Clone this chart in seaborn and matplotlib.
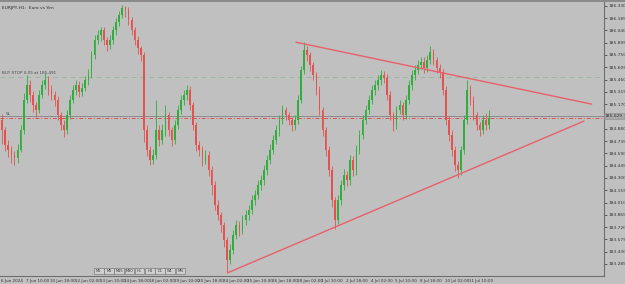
import matplotlib
matplotlib.use("Agg")
import matplotlib.pyplot as plt
import seaborn as sns
import pandas as pd
from matplotlib.patches import Rectangle

# ---------------- data (EURJPY, shown as 4-hour candles) ----------------
chart_title = "EURJPY,H1:  Euro vs Yen"
first_open = 184.98
closes = [184.86, 184.69, 184.63, 184.57, 184.53, 184.63, 184.86, 185.22, 185.39, 185.28,
          185.16, 185.10, 185.28, 185.39, 185.45, 185.34, 185.28, 185.22, 185.04, 184.92,
          184.86, 185.04, 185.22, 185.34, 185.39, 185.31, 185.36, 185.45, 185.51, 185.75,
          185.93, 185.98, 186.04, 185.93, 185.87, 185.93, 186.04, 186.14, 186.22, 186.30,
          186.28, 186.16, 186.04, 185.93, 185.83, 185.75, 184.86, 184.63, 184.51, 184.57,
          184.86, 184.75, 184.86, 185.04, 184.86, 184.75, 184.92, 185.10, 185.22, 185.28,
          185.34, 185.16, 184.92, 184.69, 184.63, 184.51, 184.57, 184.39, 184.22, 183.98,
          183.86, 183.74, 183.57, 183.33, 183.45, 183.63, 183.74, 183.69, 183.80, 183.86,
          183.92, 184.04, 184.10, 184.22, 184.28, 184.39, 184.51, 184.63, 184.75, 184.86,
          184.98, 185.10, 185.04, 184.98, 184.92, 184.98, 185.22, 185.57, 185.81, 185.75,
          185.63, 185.51, 185.34, 185.10, 184.86, 184.63, 184.39, 184.04, 183.80, 184.04,
          184.22, 184.33, 184.28, 184.51, 184.39, 184.63, 184.81, 184.98, 185.10, 185.22,
          185.34, 185.39, 185.45, 185.51, 185.48, 185.28, 185.04, 184.92, 185.10, 185.16,
          185.04, 185.22, 185.39, 185.51, 185.57, 185.63, 185.67, 185.60, 185.69, 185.78,
          185.69, 185.60, 185.55, 185.34, 184.98, 184.81, 184.63, 184.45, 184.39, 184.63,
          184.98, 185.34, 185.22, 185.04, 184.92, 184.86, 184.98, 184.92, 185.01]
highs = [185.05, 184.90, 184.75, 184.68, 184.62, 184.70, 184.92, 185.30, 185.51, 185.45,
         185.32, 185.20, 185.34, 185.45, 185.54, 185.50, 185.40, 185.33, 185.26, 185.08,
         184.98, 185.10, 185.28, 185.40, 185.46, 185.44, 185.42, 185.50, 185.58, 185.80,
         185.98, 186.04, 186.08, 186.08, 185.96, 185.99, 186.09, 186.19, 186.27, 186.34,
         186.33, 186.31, 186.20, 186.08, 185.97, 185.86, 185.78, 184.92, 184.68, 184.64,
         185.22, 184.92, 184.93, 185.16, 185.08, 184.90, 184.98, 185.16, 185.28, 185.34,
         185.40, 185.38, 185.20, 184.96, 184.74, 184.68, 184.63, 184.62, 184.44, 184.26,
         184.04, 183.90, 183.78, 183.60, 183.52, 183.68, 183.80, 183.79, 183.86, 183.92,
         183.98, 184.10, 184.16, 184.28, 184.34, 184.45, 184.57, 184.70, 184.81, 184.92,
         185.04, 185.16, 185.14, 185.08, 185.02, 185.04, 185.28, 185.62, 185.90, 185.86,
         185.78, 185.67, 185.55, 185.38, 185.14, 184.90, 184.68, 184.44, 184.08, 184.10,
         184.28, 184.40, 184.38, 184.57, 184.56, 184.69, 184.87, 185.04, 185.16, 185.28,
         185.40, 185.45, 185.51, 185.57, 185.56, 185.52, 185.32, 185.08, 185.15, 185.22,
         185.20, 185.28, 185.45, 185.57, 185.63, 185.69, 185.73, 185.72, 185.75, 185.85,
         185.82, 185.73, 185.64, 185.58, 185.38, 185.03, 184.86, 184.68, 184.50, 184.68,
         185.04, 185.45, 185.40, 185.26, 185.08, 184.96, 185.04, 185.07, 185.10]
lows = [184.70, 184.62, 184.55, 184.48, 184.45, 184.48, 184.60, 184.82, 185.18, 185.20,
        185.08, 185.02, 185.06, 185.24, 185.35, 185.28, 185.22, 185.15, 184.98, 184.86,
        184.78, 184.82, 185.00, 185.18, 185.28, 185.25, 185.26, 185.32, 185.40, 185.48,
        185.70, 185.88, 185.92, 185.87, 185.80, 185.82, 185.88, 185.99, 186.09, 186.18,
        186.20, 186.10, 185.98, 185.87, 185.76, 185.68, 184.72, 184.56, 184.45, 184.46,
        184.52, 184.68, 184.70, 184.80, 184.80, 184.68, 184.70, 184.88, 185.05, 185.16,
        185.22, 185.10, 184.86, 184.62, 184.56, 184.44, 184.46, 184.32, 184.10, 183.92,
        183.80, 183.66, 183.48, 183.19, 183.28, 183.40, 183.58, 183.62, 183.64, 183.75,
        183.80, 183.88, 183.98, 184.05, 184.16, 184.22, 184.34, 184.46, 184.58, 184.70,
        184.80, 184.93, 184.98, 184.92, 184.85, 184.86, 184.94, 185.18, 185.52, 185.68,
        185.56, 185.45, 185.28, 185.04, 184.80, 184.56, 184.32, 183.96, 183.70, 183.76,
        183.98, 184.16, 184.20, 184.22, 184.32, 184.34, 184.58, 184.76, 184.93, 185.05,
        185.17, 185.28, 185.34, 185.40, 185.42, 185.22, 184.98, 184.85, 184.88, 185.05,
        184.98, 185.00, 185.17, 185.34, 185.46, 185.52, 185.58, 185.54, 185.55, 185.64,
        185.63, 185.54, 185.48, 185.28, 184.92, 184.74, 184.56, 184.38, 184.30, 184.34,
        184.58, 184.93, 185.16, 184.98, 184.86, 184.80, 184.82, 184.86, 184.88]
bar_hours = 4

price_ticks = [183.285, 183.430, 183.575, 183.720, 183.865, 184.010, 184.155, 184.300,
               184.445, 184.590, 184.735, 184.880, 185.025, 185.170, 185.315, 185.460,
               185.605, 185.750, 185.895, 186.040, 186.185, 186.330]
time_labels = ["6 Jun 2024", "7 Jun 10:00", "10 Jun 18:00", "12 Jun 02:00", "13 Jun 10:00",
               "14 Jun 18:00", "18 Jun 02:00", "19 Jun 10:00", "20 Jun 18:00", "24 Jun 02:00",
               "25 Jun 10:00", "26 Jun 18:00", "28 Jun 02:00", "1 Jul 10:00", "2 Jul 18:00",
               "4 Jul 02:00", "5 Jul 10:00", "8 Jul 18:00", "10 Jul 02:00", "11 Jul 10:00"]
hours_per_label = 32

buy_stop_price = 185.491
buy_stop_text = "BUY STOP 0.05 at 185.491"
sl_price = 185.01
bid_price = 185.03
bid_text = "185.029"

upper_trend_hours = [383, 767]
upper_trend_prices = [185.90, 185.17]
lower_trend_hours = [294, 757]
lower_trend_prices = [183.18, 184.97]

toolbar_buttons = ["M1", "M5", "M15", "M30", "H1", "H4", "D1", "W1", "MN"]

# ---------------- build frame ----------------
opens = [first_open] + closes[:-1]
df = pd.DataFrame({"open": opens, "high": highs, "low": lows, "close": closes})
df["hour"] = [bar_hours * k + 1.5 for k in range(len(df))]
df["up"] = df["close"] >= df["open"]

BG = "#c0c0c0"
GREEN = "#2fae3c"
RED = "#e2534f"
TRI = "#e8606a"
TXT = "#333333"
NARROW = ["Liberation Sans Narrow", "DejaVu Sans"]

sns.set_style("white", {"axes.facecolor": BG, "figure.facecolor": BG})
plt.rcParams["font.family"] = NARROW

fig = plt.figure(figsize=(6.25, 2.84), dpi=100)
fig.patch.set_facecolor(BG)
ax = fig.add_axes([0.0, 8 / 284, 604 / 625, 274 / 284])
ax.set_facecolor(BG)

# horizontal order lines
ax.axhline(buy_stop_price, color="#9db69d", lw=0.7, ls=(0, (5, 4)), zorder=1)
ax.axhline(bid_price, color="#8c8c8c", lw=0.7, zorder=1)
ax.axhline(sl_price, color="#d9534f", lw=0.7, ls=(0, (4, 2, 1, 2)), zorder=1)

# candles
for _, r in df.iterrows():
    col = GREEN if r["up"] else RED
    ax.vlines(r["hour"], r["low"], r["high"], color=col, lw=0.6, zorder=2)
    lo = min(r["open"], r["close"])
    h = max(abs(r["close"] - r["open"]), 0.01)
    ax.bar(r["hour"], h, bottom=lo, width=2.2, color=col, edgecolor=col, lw=0, zorder=3)

# trend lines (triangle)
tri = pd.DataFrame({
    "hour": upper_trend_hours + lower_trend_hours,
    "price": upper_trend_prices + lower_trend_prices,
    "line": ["upper", "upper", "lower", "lower"],
})
sns.lineplot(data=tri, x="hour", y="price", units="line", estimator=None,
             color=TRI, lw=1.0, ax=ax, zorder=4)

ax.set_xlim(-1.3, 783)
ax.set_ylim(183.1435, 186.374)
ax.set_xlabel("")
ax.set_ylabel("")

# axes styling
for s in ["top", "left"]:
    ax.spines[s].set_visible(False)
for s in ["right", "bottom"]:
    ax.spines[s].set_color("#6e6e6e")
    ax.spines[s].set_linewidth(0.8)

ax.yaxis.tick_right()
ax.set_yticks(price_ticks)
ax.set_yticklabels(["" if abs(p - bid_price) < 0.06 else f"{p:.3f}" for p in price_ticks])
ax.tick_params(axis="y", direction="out", length=2, width=0.5, pad=1.0,
               labelsize=3.2, colors=TXT)
ax.set_xticks([hours_per_label * k for k in range(len(time_labels))])
ax.set_xticklabels(time_labels)
ax.tick_params(axis="x", direction="out", length=2, width=0.5, pad=0.5,
               labelsize=3.0, colors=TXT)
for lab in ax.get_xticklabels():
    lab.set_horizontalalignment("left")

# bid price box on axis
ax.text(1.0015, bid_price, bid_text, transform=ax.get_yaxis_transform(),
        fontsize=3.2, color=TXT, va="center", ha="left",
        bbox=dict(boxstyle="square,pad=0.3", fc="#a9a9a9", ec="#8a8a8a", lw=0.4),
        zorder=6, clip_on=False)

# texts
ax.text(0.004, 0.985, chart_title, transform=ax.transAxes, fontsize=3.2,
        color="#2a2a2a", va="top", ha="left")
ax.text(1.5, buy_stop_price + 0.025, buy_stop_text, fontsize=3.0, color="#4a4a4a",
        va="bottom", ha="left")
ax.text(6, sl_price + 0.025, "SL", fontsize=3.0, color="#4a4a4a", va="bottom", ha="left")

# small period toolbar at the bottom of the chart
x0 = 94 / 625
bw = 9.6 / 625
for k, name in enumerate(toolbar_buttons):
    xx = x0 + k * (bw + 0.6 / 625)
    fig.add_artist(Rectangle((xx, 1 - 274 / 284), bw, 6 / 284, transform=fig.transFigure,
                             fc="#cfcfcf", ec="#6a6a6a", lw=0.4))
    fig.text(xx + bw / 2, 1 - 271 / 284, name, fontsize=2.6, color=TXT,
             ha="center", va="center")

# top border of window
fig.add_artist(plt.Line2D([0, 1], [0.997, 0.997], transform=fig.transFigure,
                          color="#808080", lw=1.2))

fig.savefig("out.png", dpi=100, facecolor=BG)
